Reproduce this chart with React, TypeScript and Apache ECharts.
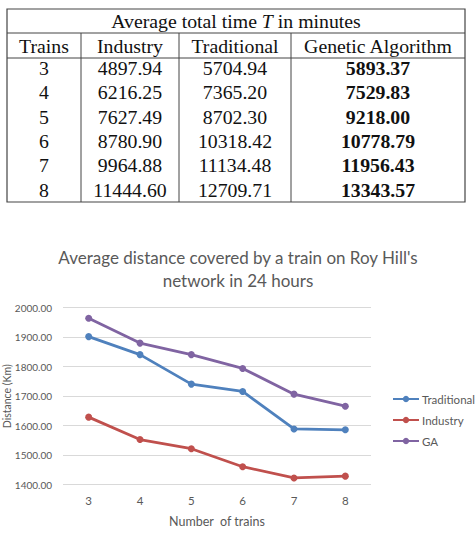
import React, { useEffect, useRef } from "react";
import * as echarts from "echarts";

const trains = ["3", "4", "5", "6", "7", "8"];
const industryTime = ["4897.94", "6216.25", "7627.49", "8780.90", "9964.88", "11444.60"];
const traditionalTime = ["5704.94", "7365.20", "8702.30", "10318.42", "11134.48", "12709.71"];
const gaTime = ["5893.37", "7529.83", "9218.00", "10778.79", "11956.43", "13343.57"];
const tableHeaders = ["Trains", "Industry", "Traditional", "Genetic Algorithm"];

const seriesNames = ["Traditional", "Industry", "GA"];
const traditionalDist = [1902, 1841, 1741, 1716, 1589, 1586];
const industryDist = [1629, 1553, 1522, 1461, 1423, 1429];
const gaDist = [1964, 1880, 1841, 1794, 1707, 1666];

export default function App() {
  const ref = useRef<HTMLDivElement>(null);
  useEffect(() => {
    if (!ref.current) return;
    const chart = echarts.init(ref.current, undefined, { renderer: "svg" });

    const serif = "'Liberation Serif', 'Times New Roman', serif";
    const L = 7, R = 465, T = 9, B = 202;
    const colX = [81, 179, 291];
    const centers = [44, 130, 235, 378];
    const rowY = [68, 92.3, 116.6, 140.9, 165.2, 189.5];
    const lineStyle = { stroke: "#444", lineWidth: 1 };
    const fs = 19.8;
    const graphics: any[] = [];
    graphics.push({ type: "rect", shape: { x: L, y: T, width: R - L, height: B - T }, style: { fill: "none", stroke: "#444", lineWidth: 1.2 } });
    graphics.push({ type: "line", shape: { x1: L, y1: 33, x2: R, y2: 33 }, style: lineStyle });
    graphics.push({ type: "line", shape: { x1: L, y1: 58, x2: R, y2: 58 }, style: lineStyle });
    colX.forEach((x) => graphics.push({ type: "line", shape: { x1: x, y1: 33, x2: x, y2: B }, style: lineStyle }));
    graphics.push({
      type: "text", x: 236, y: 21,
      style: {
        text: "{a|Average total time }{i|T}{a| in minutes}",
        align: "center", verticalAlign: "middle",
        rich: {
          a: { fontFamily: serif, fontSize: fs, fill: "#111" },
          i: { fontFamily: serif, fontSize: fs, fontStyle: "italic", fill: "#111" },
        },
      },
    });
    tableHeaders.forEach((h, i) =>
      graphics.push({ type: "text", x: centers[i], y: 45.5, style: { text: h, fontFamily: serif, fontSize: fs, fill: "#111", align: "center", verticalAlign: "middle" } })
    );
    trains.forEach((t, r) => {
      const vals = [t, industryTime[r], traditionalTime[r], gaTime[r]];
      vals.forEach((v, c) =>
        graphics.push({
          type: "text", x: centers[c], y: rowY[r],
          style: { text: v, fontFamily: serif, fontSize: fs, fontWeight: c === 3 ? "bold" : "normal", fill: "#111", align: "center", verticalAlign: "middle" },
        })
      );
    });

    const sans = "Lato, 'Open Sans', sans-serif";
    const colors = ["#4F81BD", "#C0504D", "#8064A2"];
    const data = [traditionalDist, industryDist, gaDist];

    chart.setOption({
      animation: false,
      backgroundColor: "#fff",
      color: colors,
      title: {
        text: "Average distance covered by a train on Roy Hill's\nnetwork in 24 hours",
        left: 233, top: 241, textAlign: "center",
        textStyle: { fontFamily: sans, fontSize: 17, fontWeight: "normal", color: "#595959", lineHeight: 23 },
      },
      legend: {
        orient: "vertical", left: 387, top: 388, itemGap: 9, itemWidth: 26, itemHeight: 8,
        textStyle: { fontFamily: sans, fontSize: 11.5, color: "#595959", padding: [0, 0, 0, -2] },
        data: seriesNames,
      },
      grid: { left: 63, right: 105, top: 307.7, bottom: 49.3, containLabel: false, outerBoundsMode: "none" },
      xAxis: {
        type: "category", data: trains, boundaryGap: true,
        name: "Number  of trains", nameLocation: "middle", nameGap: 30,
        nameTextStyle: { fontFamily: sans, fontSize: 12.5, color: "#595959" },
        axisLine: { show: false }, axisTick: { show: false },
        axisLabel: { fontFamily: sans, fontSize: 11.5, color: "#595959", margin: 10 },
      },
      yAxis: {
        type: "value", min: 1400, max: 2000, interval: 100,
        name: "Distance (Km)", nameLocation: "middle", nameGap: 51, nameRotate: 90,
        nameMoveOverlap: false,
        nameTextStyle: { fontFamily: sans, fontSize: 10.5, color: "#595959", lineHeight: 11 },
        axisLine: { show: false }, axisTick: { show: false },
        axisLabel: { fontFamily: sans, fontSize: 10, color: "#595959", margin: 11, formatter: (v: number) => v.toFixed(2) },
        splitLine: { lineStyle: { color: "#D9D9D9", width: 1 } },
      },
      series: seriesNames.map((n, i) => ({
        name: n, type: "line", data: data[i], symbol: "circle", symbolSize: 7,
        lineStyle: { width: 2.8, color: colors[i] }, itemStyle: { color: colors[i] },
      })),
      graphic: graphics,
    });
    return () => chart.dispose();
  }, []);
  return <div ref={ref} style={{ position: "fixed", left: 0, top: 0, width: 476, height: 534 }} />;
}
